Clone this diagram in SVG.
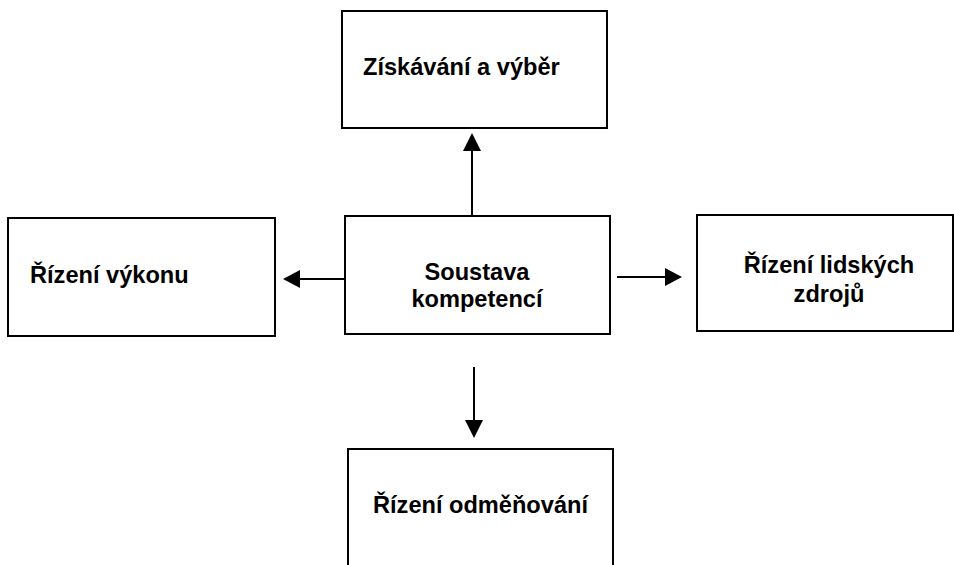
<svg xmlns="http://www.w3.org/2000/svg" width="954" height="565" viewBox="0 0 954 565">
<style>
.box{fill:#fff;stroke:#000;stroke-width:2}
.t{font-family:"Liberation Sans",Arial,sans-serif;font-weight:bold;font-size:23.6px;fill:#000}
.c{text-anchor:middle}
.ln{stroke:#000;stroke-width:2;fill:none}
</style>
<rect width="954" height="565" fill="#fff"/>
<g id="n-ziskavani"><rect class="box" x="342" y="11" width="265" height="117"/><text class="t" x="363" y="75">Získávání a výběr</text></g>
<g id="n-vykon"><rect class="box" x="8" y="218" width="267" height="118"/><text class="t" x="30" y="283">Řízení výkonu</text></g>
<g id="n-soustava"><rect class="box" x="345" y="216" width="265" height="118"/><text class="t c" x="477" y="280">Soustava</text><text class="t c" x="477" y="307">kompetencí</text></g>
<g id="n-lidske"><rect class="box" x="697" y="215" width="256" height="116"/><text class="t c" x="829" y="273">Řízení lidských</text><text class="t c" x="829" y="302">zdrojů</text></g>
<g id="n-odmenovani"><rect class="box" x="348" y="449" width="265" height="130"/><text class="t" x="373" y="513">Řízení odměňování</text></g>
<g id="connectors">
<path class="ln" d="M472,215 V151"/><path d="M463,151 L472,133 L481,151 Z"/>
<path class="ln" d="M345,279 H300"/><path d="M300,270 L283,279 L300,288 Z"/>
<path class="ln" d="M617,277 H665"/><path d="M665,268 L682,277 L665,286 Z"/>
<path class="ln" d="M474,367 V420"/><path d="M465,420 L474,438 L483,420 Z"/>
</g>
</svg>
